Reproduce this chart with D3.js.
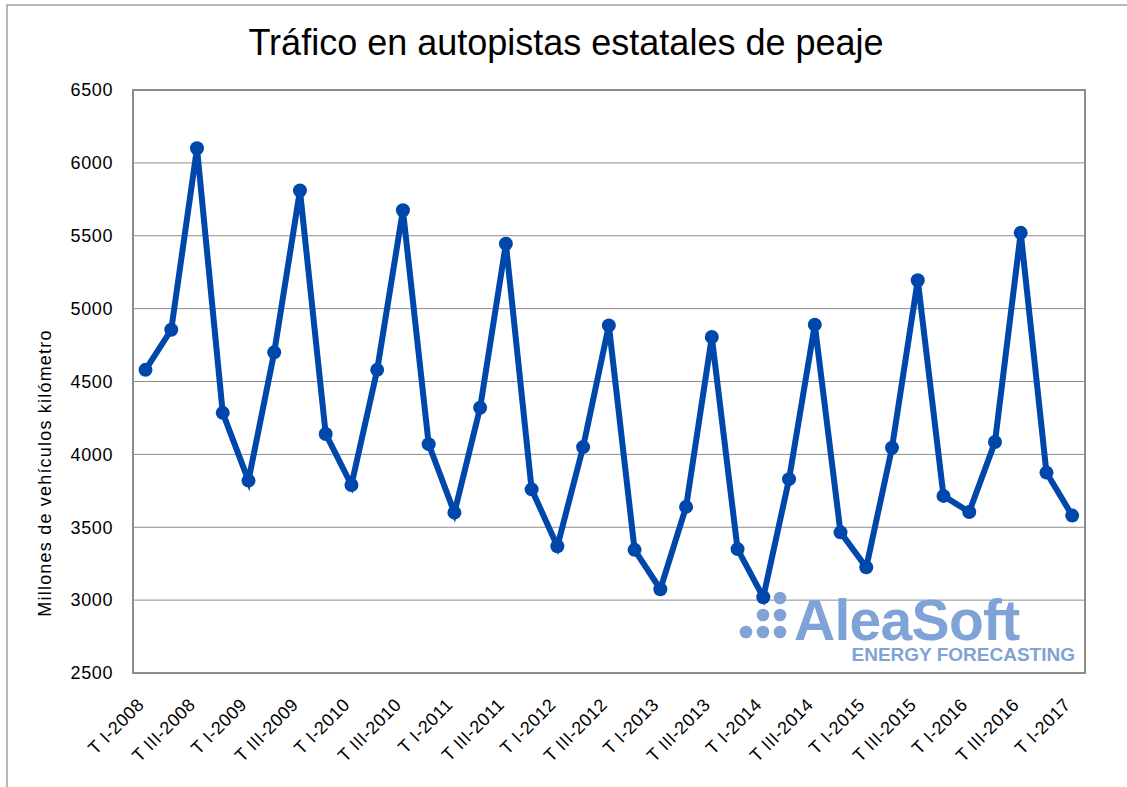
<!DOCTYPE html>
<html>
<head>
<meta charset="utf-8">
<script src="https://cdn.jsdelivr.net/npm/d3@7"></script>
<style>
  body { margin: 0; background: #fff; }
  text { font-family: "Liberation Sans", Arial, sans-serif; }
</style>
</head>
<body>
<div id="container"></div>
<script>
// trimestres T I-2008 .. T I-2017
const years = [2008, 2009, 2010, 2011, 2012, 2013, 2014, 2015, 2016, 2017];
const quarters = ["I", "II", "III", "IV"];
const categories = [];
years.forEach(y => quarters.forEach(q => categories.push(`T ${q}-${y}`)));
categories.splice(37); // hasta T I-2017

const traffic = [
  4580, 4855, 6100, 4285,
  3820, 4700, 5810, 4140,
  3790, 4580, 5675, 4070,
  3600, 4320, 5445, 3760,
  3370, 4050, 4885, 3345,
  3075, 3640, 4805, 3350,
  3020, 3830, 4890, 3465,
  3225, 4045, 5195, 3715,
  3605, 4085, 5520, 3875,
  3580
];
const yTicks = [2500, 3000, 3500, 4000, 4500, 5000, 5500, 6000, 6500];

const W = 1127, H = 787;
const pLeft = 133, pRight = 1085, pTop = 90, pBottom = 673;

const svg = d3.select("#container").append("svg")
  .attr("width", W).attr("height", H);

// marco exterior
svg.append("rect")
  .attr("x", 7).attr("y", 5)
  .attr("width", W).attr("height", H)
  .attr("fill", "none").attr("stroke", "#a0a0a0").attr("stroke-width", 1.5);

const x = d3.scalePoint()
  .domain(categories)
  .range([pLeft + 12.5, pRight - 12.8]);

const y = d3.scaleLinear()
  .domain([2500, 6500])
  .range([pBottom, pTop]);

// grid
svg.append("g")
  .selectAll("line")
  .data(yTicks)
  .enter().append("line")
  .attr("x1", pLeft).attr("x2", pRight)
  .attr("y1", d => y(d)).attr("y2", d => y(d))
  .attr("stroke", "#8c8c8c").attr("stroke-width", 1);

// eje y
const yAxis = svg.append("g")
  .attr("transform", `translate(${pLeft},0)`)
  .call(d3.axisLeft(y).tickValues(yTicks).tickFormat(d3.format("d")).tickSize(0).tickPadding(20));
yAxis.select(".domain").remove();
yAxis.selectAll("text")
  .style("font-size", "18px")
  .style("letter-spacing", "0.6px")
  .style("font-family", "'Liberation Sans', Arial, sans-serif")
  .attr("fill", "#000");

// marco del area de grafico
svg.append("rect")
  .attr("x", pLeft).attr("y", pTop)
  .attr("width", pRight - pLeft).attr("height", pBottom - pTop)
  .attr("fill", "none").attr("stroke", "#8c8c8c").attr("stroke-width", 2);

// eje x (etiquetas cada dos trimestres)
const xAxis = svg.append("g")
  .attr("transform", `translate(0,${pBottom})`)
  .call(d3.axisBottom(x)
    .tickValues(categories.filter((c, i) => i % 2 === 0))
    .tickSize(0));
xAxis.select(".domain").remove();
xAxis.selectAll("text")
  .style("font-size", "18px")
  .style("letter-spacing", "0.4px")
  .style("font-family", "'Liberation Sans', Arial, sans-serif")
  .attr("fill", "#000")
  .style("text-anchor", "end")
  .attr("x", 0).attr("y", 0).attr("dy", 0)
  .attr("transform", "translate(-1,33) rotate(-45)");

// marca de agua AleaSoft
const wm = svg.append("g").attr("fill", "#7fa3d6");
[[746, 632], [763, 632], [780, 632], [763, 615], [780, 615], [780, 598]].forEach(p => {
  wm.append("circle").attr("cx", p[0]).attr("cy", p[1]).attr("r", 6.3);
});
wm.append("text")
  .attr("x", 794).attr("y", 640)
  .style("font-size", "57px").style("font-weight", "bold")
  .style("letter-spacing", "-0.7px")
  .text("AleaSoft");
wm.append("text")
  .attr("x", 1075).attr("y", 661)
  .attr("text-anchor", "end")
  .style("font-size", "19px").style("font-weight", "bold")
  .text("ENERGY FORECASTING");

// serie
const line = d3.line()
  .x((d, i) => x(categories[i]))
  .y(d => y(d));

svg.append("path")
  .datum(traffic)
  .attr("d", line)
  .attr("fill", "none")
  .attr("stroke", "#0047ab")
  .attr("stroke-width", 6)
  .attr("stroke-linejoin", "miter");

svg.append("g")
  .selectAll("circle")
  .data(traffic)
  .enter().append("circle")
  .attr("cx", (d, i) => x(categories[i]))
  .attr("cy", d => y(d))
  .attr("r", 7)
  .attr("fill", "#0047ab");

// titulo
svg.append("text")
  .attr("x", 566).attr("y", 55)
  .attr("text-anchor", "middle")
  .style("font-size", "36px")
  .text("Tráfico en autopistas estatales de peaje");

// etiqueta eje y
svg.append("text")
  .attr("transform", "translate(51,473) rotate(-90)")
  .attr("text-anchor", "middle")
  .style("font-size", "18px")
  .style("letter-spacing", "1.2px")
  .text("Millones de vehículos kilómetro");
</script>
</body>
</html>
